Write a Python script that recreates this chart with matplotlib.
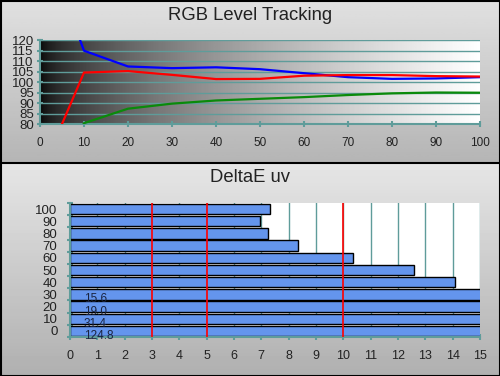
import matplotlib
matplotlib.use("Agg")
import matplotlib.pyplot as plt
import numpy as np

plt.rcParams['font.family'] = ['Liberation Sans', 'DejaVu Sans']

# RGB level tracking (percent of stimulus vs level)
levels = [5, 10, 20, 30, 40, 50, 60, 70, 80, 90, 100]
red = [80.0, 104.5, 105.2, 103.4, 101.4, 101.5, 103.0, 103.3, 103.3, 102.8, 102.6]
green = [60.0, 80.4, 87.3, 89.7, 91.2, 92.0, 92.8, 93.8, 94.6, 95.0, 94.9]
blue = [143.0, 114.9, 107.4, 106.6, 107.0, 106.1, 104.2, 102.3, 101.5, 101.7, 102.3]

# DeltaE uv per level
de_levels = ['0', '10', '20', '30', '40', '50', '60', '70', '80', '90', '100']
de_values = [124.8, 31.4, 19.0, 15.6, 14.1, 12.6, 10.35, 8.35, 7.25, 6.95, 7.3]
limits = [3, 5, 10]

teal = '#5f9c9a'

fig = plt.figure(figsize=(5, 3.76), dpi=100)

# panel backgrounds
bg = fig.add_axes([0, 0, 1, 1], zorder=-10)
bg.axis('off')
top_grad = np.linspace(0.88, 0.71, 64).reshape(-1, 1)
bot_grad = np.linspace(0.90, 0.69, 64).reshape(-1, 1)
bg.imshow(top_grad, cmap='gray', vmin=0, vmax=1, extent=[0, 500, 163, 0], aspect='auto')
bg.imshow(bot_grad, cmap='gray', vmin=0, vmax=1, extent=[0, 500, 376, 163], aspect='auto')
bg.plot([0, 500], [163, 163], color='black', lw=1.5)
bg.plot([0.5, 499.5, 499.5, 0.5, 0.5], [0.5, 0.5, 375.5, 375.5, 0.5], color='black', lw=1.5)
bg.set_xlim(0, 500)
bg.set_ylim(376, 0)

fig.text(0.5, 1 - 16 / 376, 'RGB Level Tracking', ha='center', va='center', fontsize=13.3, color='#222222')
fig.text(0.5, 1 - 178 / 376, 'DeltaE uv', ha='center', va='center', fontsize=13.3, color='#222222')

# top chart
ax1 = fig.add_axes([0.08, 0.6702, 0.88, 0.2234])
t = np.linspace(0, 1, 256)
grad = (0.03 + 0.97 * t ** 0.6).reshape(1, -1)
ax1.imshow(grad, cmap='gray', vmin=0, vmax=1, extent=[0, 100, 80, 120], aspect='auto', zorder=0)
for yv in range(85, 125, 5):
    ax1.axhline(yv, color=teal, lw=1, zorder=1)
ax1.plot(levels, blue, color='#0000ff', lw=1.6, zorder=3)
ax1.plot(levels, red, color='#ff0000', lw=1.6, zorder=3)
ax1.plot(levels, green, color='#0a8a0a', lw=1.6, zorder=3)
ax1.set_xlim(0, 100)
ax1.set_ylim(80, 120)
ax1.set_xticks(range(0, 101, 10))
ax1.set_yticks(range(80, 121, 5))
for s in ['top', 'right']:
    ax1.spines[s].set_visible(False)
for s in ['left', 'bottom']:
    ax1.spines[s].set_color(teal)
    ax1.spines[s].set_linewidth(1.5)
ax1.tick_params(axis='x', direction='inout', length=5, width=1.5, color=teal, pad=7,
                labelsize=8.5, labelcolor='#222222')
ax1.tick_params(axis='y', direction='inout', length=5, width=1.5, color=teal, pad=2,
                labelsize=9.5, labelcolor='#222222')

# bottom chart
ax2 = fig.add_axes([0.14, 0.1037, 0.82, 0.3564])
ax2.set_facecolor('white')
pos = np.arange(len(de_levels))
for xv in range(1, 16):
    ax2.axvline(xv, color=teal, lw=1, zorder=1)
ax2.barh(pos, de_values, height=0.85, color='#6495ed', edgecolor='black', lw=1, zorder=2)
for xv in limits:
    ax2.axvline(xv, color='#ff0000', lw=1.2, zorder=4)
for p, v in zip(pos, de_values):
    if v > 15:
        ax2.text(0.5, p - 0.42, f'{v:.1f}', ha='left', va='center', fontsize=8.5,
                 color='#1a2440', zorder=5)
ax2.set_xlim(0, 15)
ax2.set_ylim(-0.5, len(de_levels) - 0.5)
ax2.set_xticks(range(0, 16))
ax2.set_yticks(pos)
ax2.set_yticklabels(de_levels)
ax2.set_yticks(np.arange(-0.5, len(de_levels), 1), minor=True)
for s in ['top', 'right']:
    ax2.spines[s].set_visible(False)
for s in ['left', 'bottom']:
    ax2.spines[s].set_color(teal)
    ax2.spines[s].set_linewidth(1.5)
ax2.tick_params(axis='x', direction='inout', length=5, width=1.5, color=teal, pad=7,
                labelsize=9, labelcolor='#222222')
ax2.tick_params(axis='y', which='major', length=0, pad=9, labelsize=9.5, labelcolor='#222222')
ax2.tick_params(axis='y', which='minor', direction='inout', length=5, width=1.5, color=teal)

fig.savefig('out.png', dpi=100)
